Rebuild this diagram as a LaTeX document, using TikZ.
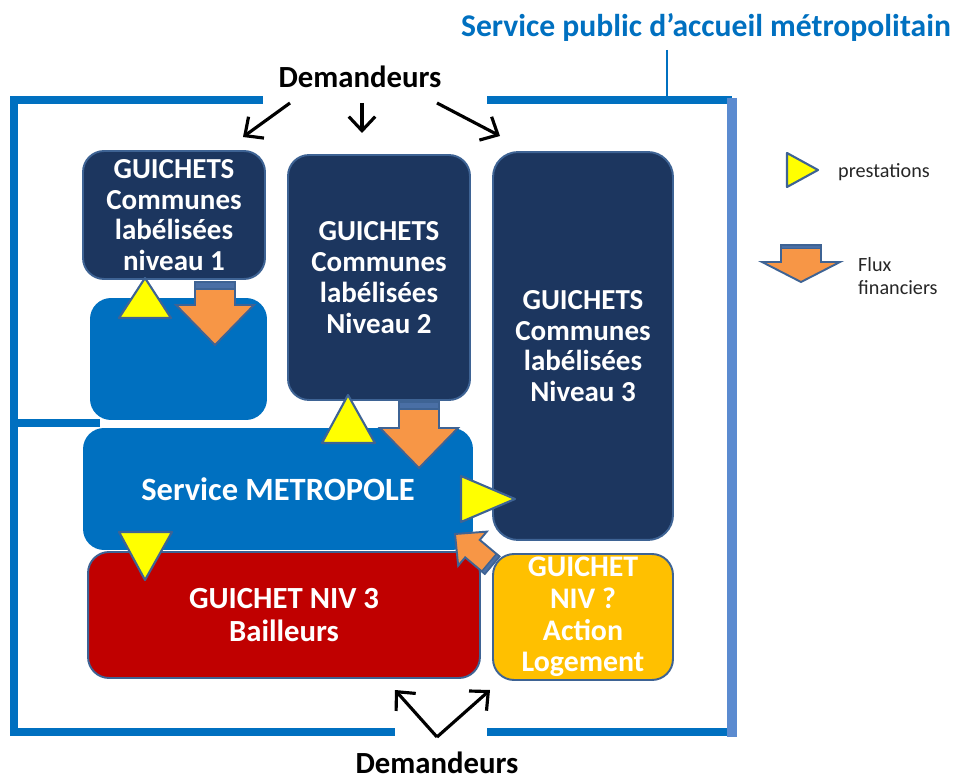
\documentclass[tikz,border=0pt]{standalone}
\usepackage{fontspec}
\setmainfont{Carlito}
\usepackage{xcolor}
\usepackage{tikz}
\usetikzlibrary{arrows.meta, positioning}

\definecolor{marine}{HTML}{1C365F}
\definecolor{bordure}{HTML}{3E6394}
\definecolor{metro}{HTML}{0070C0}
\definecolor{cadreclair}{HTML}{5B8BD0}
\definecolor{rouge}{HTML}{C00000}
\definecolor{ambre}{HTML}{FFC000}
\definecolor{jaune}{HTML}{FFFF00}
\definecolor{orange}{HTML}{F79646}
\definecolor{bleustub}{HTML}{4A6FA5}

\newcommand{\boitefont}{\bfseries\fontsize{16.5}{17.5}\selectfont}
% fleche "flux financiers" : pointe en #2, angle #3, longueur #4
\newcommand{\fluxfin}[4][]{%
  \begin{scope}[shift={#2},rotate=#3,#1]
    \filldraw[fluxstyle] (0,0) -- (39,-40) -- (20,-40) -- (20,-#4) -- (-20,-#4)
      -- (-20,-40) -- (-39,-40) -- cycle;
    \filldraw[stubstyle] (-20,-#4) rectangle (20,-#4+7);
  \end{scope}}

\tikzset{
  cadre/.style={draw=metro, line width=4.6pt},
  guichet/.style={draw=bordure, line width=1.1pt, rounded corners=0.42cm,
    fill=marine, text=white, align=center, font=\boitefont},
  metrobox/.style={fill=metro, rounded corners=0.42cm},
  prestation/.style={fill=jaune, draw=bordure, line width=1.2pt, line join=round},
  fluxstyle/.style={fill=orange, draw=bordure, line width=1.1pt, line join=miter},
  stubstyle/.style={fill=bleustub, draw=bordure, line width=0.8pt},
  demarrow/.style={-{Straight Barb[length=8pt,width=15pt]}, line width=1.8pt},
  demtext/.style={font=\bfseries\fontsize{17.5}{19}\selectfont},
  legende/.style={font=\fontsize{11.5}{12.8}\selectfont, text=black!85, align=left}
}

\begin{document}
\begin{tikzpicture}[x=0.02cm, y=-0.02cm]
  \useasboundingbox (0,0) rectangle (953,780);

  % Titre et cadre
  \node[text=metro, font=\bfseries\fontsize{18}{20}\selectfont] (titre) at (706,27)
    {Service public d’accueil métropolitain};
  \coordinate (t1) at (667,50);
  \coordinate (t2) at (667,98);
  \draw[metro, line width=0.8pt] (t1) -- (t2);
  \draw[cadre, line join=miter] (263,100) -- (14,100) -- (14,732) -- (395,732);
  \draw[cadre] (487,100) -- (732,100);
  \draw[cadre] (487,732) -- (735,732);
  \draw[cadre] (14,423) -- (100,423);
  \draw[cadreclair, line width=5.2pt] (732,98) -- (732,737);

  % Service METROPOLE
  \node[metrobox, minimum width=3.54cm, minimum height=2.44cm] (metrohaut) at (178.5,359) {};
  \node[metrobox, minimum width=7.8cm, minimum height=2.44cm, text=white,
    font=\bfseries\fontsize{18.5}{20}\selectfont] (metro) at (278,489) {Service METROPOLE};

  % Guichets
  \node[guichet, minimum width=3.64cm, minimum height=2.56cm] (g1) at (174,215)
    {GUICHETS\\Communes\\labélisées\\niveau 1};
  \node[guichet, minimum width=3.64cm, minimum height=4.9cm] (g2) at (379,277.5)
    {GUICHETS\\Communes\\labélisées\\Niveau 2};
  \node[guichet, minimum width=3.6cm, minimum height=7.76cm, rounded corners=0.5cm] (g3) at (583,346)
    {GUICHETS\\Communes\\labélisées\\Niveau 3};
  \node[guichet, fill=rouge, minimum width=7.84cm, minimum height=2.52cm,
    font=\bfseries\fontsize{17.5}{18.5}\selectfont] (bailleurs) at (284,615)
    {GUICHET NIV 3\\Bailleurs};
  \node[guichet, fill=ambre, minimum width=3.6cm, minimum height=2.52cm, inner sep=0pt,
    font=\bfseries\fontsize{17}{18}\selectfont] (action) at (583,617)
    {GUICHET\\NIV ?\\Action\\Logement};

  % Prestations (triangles)
  \filldraw[prestation] (145,278) -- (171,318) -- (119,318) -- cycle;
  \filldraw[prestation] (348,395) -- (375,443) -- (322,443) -- cycle;
  \filldraw[prestation] (515,499) -- (461,522) -- (461,476) -- cycle;
  \filldraw[prestation] (145,580) -- (119,532) -- (172,532) -- cycle;

  % Flux financiers
  \fluxfin{(215,345)}{0}{63}
  \fluxfin{(419,468)}{0}{66}
  \fluxfin[scale=0.57]{(455,534)}{230}{85}

  % Demandeurs
  \node[demtext] (dem1) at (360,77) {Demandeurs};
  \node[demtext, inner sep=1pt] (dem2) at (437,763) {Demandeurs};
  \coordinate (d1) at (290,103);
  \coordinate (d2) at (362,103);
  \coordinate (d3) at (437,103);
  \coordinate (c1) at (243,137);
  \coordinate (c2) at (362,133);
  \coordinate (c3) at (500,136);
  \foreach \a/\b in {d1/c1, d2/c2, d3/c3}
    \draw[demarrow] (\a) -- (\b);
  \coordinate (apex) at (437,737);
  \coordinate (b1) at (395,690);
  \coordinate (b2) at (490,690);
  \draw[demarrow] (apex) -- (b1);
  \draw[demarrow] (apex) -- (b2);

  % Legende
  \filldraw[prestation] (818,170) -- (787,187) -- (787,153) -- cycle;
  \node[legende, anchor=west] (leg1) at (832,172) {prestations};
  \fluxfin[yscale=0.5]{(801,282)}{0}{74}
  \node[legende, anchor=west] (leg2) at (852,276) {Flux\\financiers};
\end{tikzpicture}
\end{document}
